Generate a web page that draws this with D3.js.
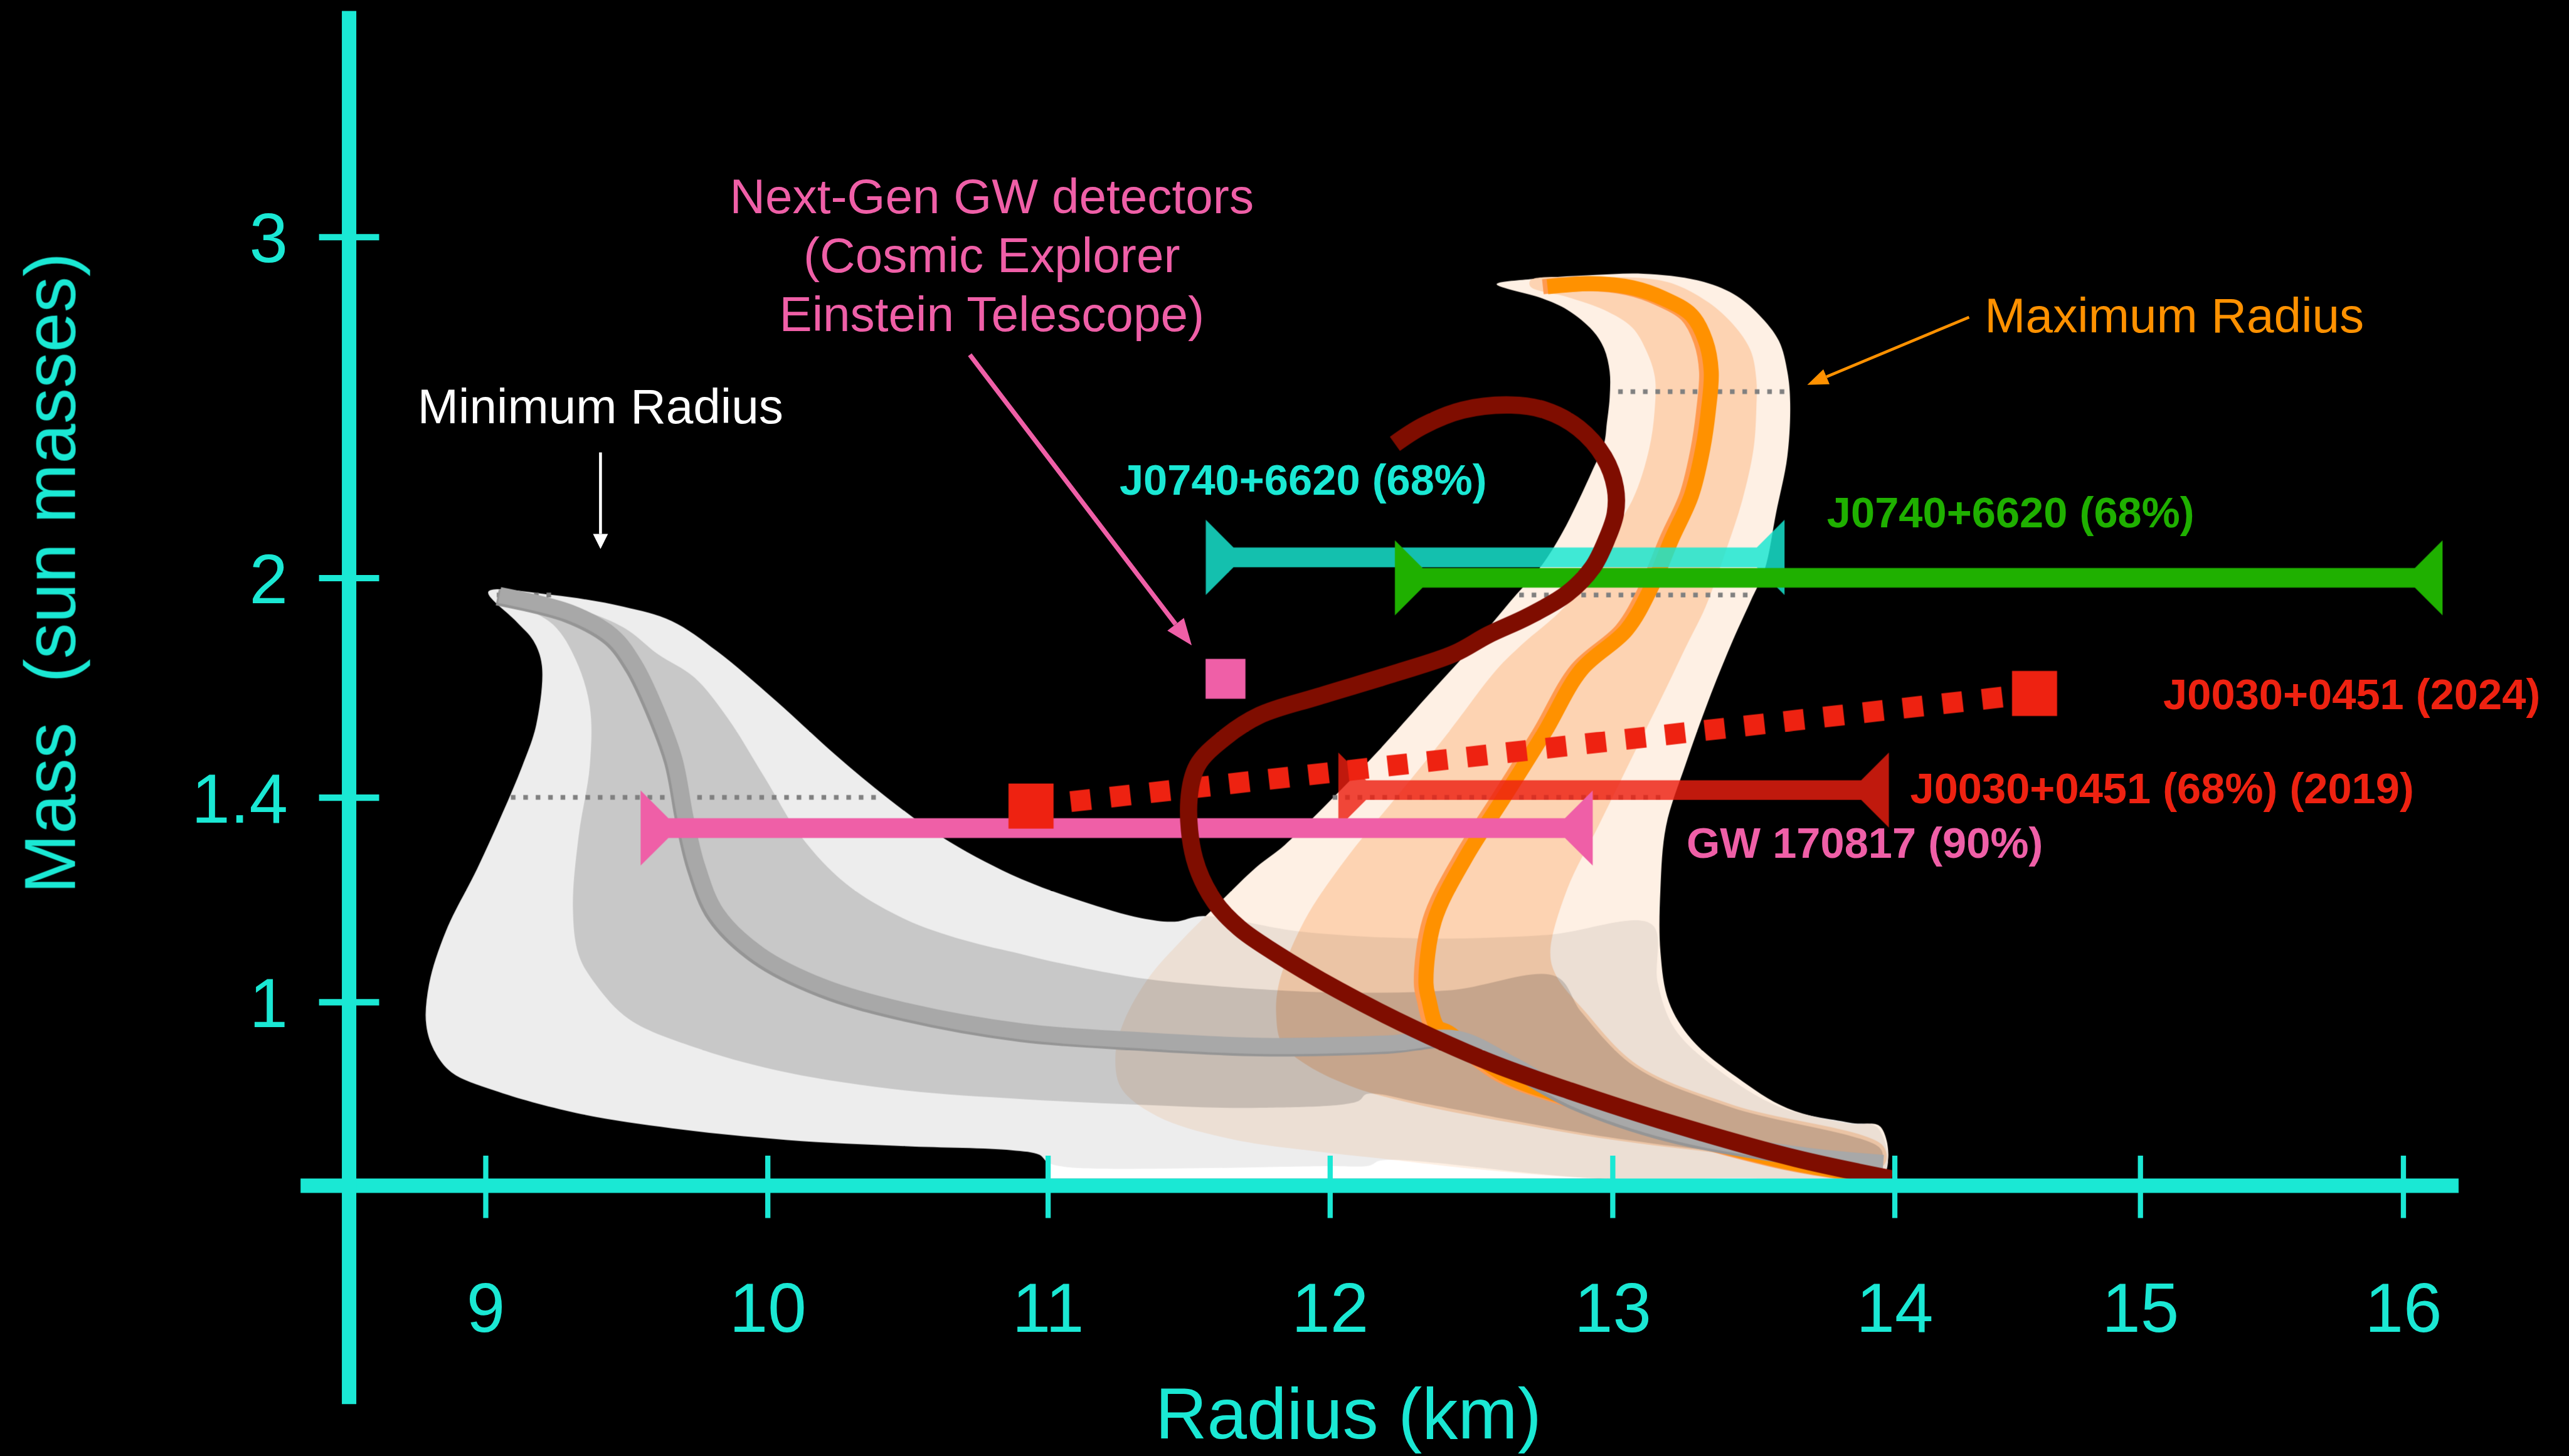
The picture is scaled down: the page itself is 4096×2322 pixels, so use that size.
<!DOCTYPE html>
<html>
<head>
<meta charset="utf-8">
<script src="https://cdn.jsdelivr.net/npm/d3@7"></script>
<style>
  html, body { margin: 0; padding: 0; background: #000; overflow: hidden; }
  svg { display: block; }
  text { font-family: "Liberation Sans", Arial, Helvetica, sans-serif; }
</style>
</head>
<body>
<svg id="chart" width="4096" height="2322"></svg>
<script>
// ---- axis ticks ----
const xTicks = [9, 10, 11, 12, 13, 14, 15, 16];
const yTicks = [1, 1.4, 2, 3];

// ---- minimum-radius band (radius km, mass Msun) ----
const minRadius90 = [
  [9.01,1.962],[9.24,1.953],[9.49,1.921],[9.66,1.882],[9.82,1.800],[10.03,1.664],[10.24,1.518],
  [10.43,1.398],[10.62,1.323],[10.87,1.249],[11.12,1.197],[11.33,1.164],[11.45,1.157],[11.55,1.168],
  [11.89,1.138],[12.32,1.124],[12.77,1.131],[13.14,1.151],[13.16,1.038],[13.22,0.948],[13.37,0.869],
  [13.59,0.795],[13.84,0.764],[13.94,0.754],[13.96,0.660],[12.98,0.654],[12.18,0.690],[12.14,0.680],
  [11.99,0.679],[11.07,0.677],[11.0,0.686],[10.97,0.701],[10.87,0.710],[10.49,0.718],[10.07,0.730],
  [9.66,0.753],[9.32,0.783],[9.03,0.827],[8.88,0.862],[8.82,0.903],[8.79,0.955],[8.80,1.035],
  [8.86,1.139],[8.97,1.260],[9.06,1.369],[9.13,1.485],[9.18,1.599],[9.20,1.760],[9.17,1.828],[9.11,1.880]
];
const minRadius68 = [
  [9.06,1.953],[9.30,1.921],[9.49,1.864],[9.61,1.792],[9.74,1.728],[9.86,1.615],[9.99,1.454],
  [10.12,1.323],[10.28,1.231],[10.49,1.162],[10.70,1.121],[10.91,1.093],[11.05,1.075],[11.36,1.044],
  [11.81,1.023],[12.09,1.018],[12.43,1.023],[12.80,1.050],[12.89,0.980],[13.08,0.873],[13.42,0.794],
  [13.95,0.713],[13.95,0.688],[13.43,0.705],[12.98,0.736],[12.65,0.768],[12.32,0.803],[12.13,0.820],
  [12.10,0.806],[11.75,0.793],[11.33,0.799],[10.91,0.810],[10.49,0.827],[10.07,0.862],[9.76,0.908],
  [9.51,0.966],[9.39,1.035],[9.33,1.093],[9.31,1.185],[9.33,1.323],[9.37,1.487],[9.37,1.648],
  [9.32,1.776],[9.24,1.872]
];
const minRadiusMedian = [
  [9.05,1.953],[9.30,1.905],[9.45,1.841],[9.53,1.760],[9.60,1.648],[9.67,1.503],[9.71,1.358],
  [9.75,1.266],[9.82,1.173],[9.97,1.093],[10.20,1.029],[10.49,0.983],[10.91,0.942],[11.33,0.925],
  [11.76,0.914],[12.21,0.919],[12.45,0.928],[12.65,0.876],[12.87,0.810],[13.21,0.746],[13.65,0.702],
  [13.96,0.685]
];
const lowerStrip = [[11.0,0.654],[11.0,0.700],[12.98,0.700],[12.98,0.654]];

// ---- maximum-radius band ----
const maxRadius90 = [
  [12.59,2.861],[12.71,2.876],[12.93,2.888],[13.11,2.892],[13.30,2.873],[13.43,2.832],[13.52,2.771],
  [13.59,2.695],[13.62,2.605],[13.63,2.514],[13.62,2.356],[13.58,2.190],[13.54,2.025],[13.49,1.937],
  [13.42,1.817],[13.34,1.664],[13.26,1.492],[13.19,1.344],[13.17,1.221],[13.17,1.098],[13.20,1.000],
  [13.28,0.927],[13.44,0.853],[13.62,0.792],[13.84,0.762],[13.95,0.756],[13.96,0.666],[13.43,0.656],
  [12.98,0.654],[12.54,0.672],[12.18,0.694],[11.98,0.706],[11.65,0.732],[11.39,0.776],[11.26,0.832],
  [11.24,0.897],[11.27,0.962],[11.36,1.049],[11.47,1.118],[11.61,1.195],[11.74,1.264],[11.84,1.307],
  [12.02,1.406],[12.17,1.526],[12.35,1.681],[12.51,1.817],[12.64,1.937],[12.75,2.037],[12.82,2.129],
  [12.88,2.227],[12.93,2.317],[12.97,2.393],[12.98,2.454],[12.99,2.529],[12.99,2.605],[12.97,2.673],
  [12.93,2.725],[12.84,2.786],[12.75,2.820]
];
const maxRadius68 = [
  [12.71,2.873],[12.93,2.881],[13.12,2.878],[13.22,2.861],[13.34,2.808],[13.43,2.741],[13.49,2.666],
  [13.51,2.581],[13.51,2.498],[13.50,2.378],[13.46,2.227],[13.40,2.075],[13.33,1.921],[13.26,1.811],
  [13.19,1.698],[13.08,1.526],[12.95,1.344],[12.84,1.221],[12.78,1.098],[12.80,1.052],[12.90,0.983],
  [13.09,0.876],[13.43,0.798],[13.96,0.718],[13.96,0.680],[13.43,0.702],[12.98,0.732],[12.65,0.763],
  [12.32,0.798],[12.09,0.832],[11.92,0.876],[11.83,0.919],[11.81,0.971],[11.82,1.037],[11.91,1.159],
  [12.06,1.282],[12.24,1.405],[12.42,1.578],[12.59,1.749],[12.68,1.818],[12.84,1.929],[12.95,2.075],
  [13.07,2.227],[13.13,2.378],[13.15,2.498],[13.15,2.590],[13.12,2.666],[13.07,2.734],[12.97,2.786],
  [12.84,2.824],[12.71,2.854]
];
const maxRadiusMedian = [
  [12.77,2.854],[12.93,2.863],[13.07,2.851],[13.18,2.820],[13.28,2.771],[13.33,2.695],[13.35,2.605],
  [13.34,2.492],[13.32,2.378],[13.28,2.242],[13.21,2.114],[13.14,1.978],[13.05,1.858],[12.89,1.749],
  [12.76,1.578],[12.62,1.405],[12.48,1.282],[12.37,1.159],[12.34,1.037],[12.35,1.005],[12.38,0.951],
  [12.42,0.940],[12.61,0.860],[12.87,0.807],[13.21,0.747],[13.63,0.686],[13.92,0.660]
];

// ---- example equation-of-state mass-radius curve ----
const eosCurve = [
  [12.23,2.393],[12.33,2.446],[12.47,2.492],[12.64,2.507],[12.76,2.492],[12.88,2.439],[12.97,2.354],
  [13.01,2.264],[13.01,2.188],[12.98,2.114],[12.93,2.031],[12.84,1.957],[12.70,1.894],[12.56,1.844],
  [12.44,1.793],[12.23,1.739],[11.96,1.676],[11.75,1.624],[11.62,1.559],[11.53,1.487],[11.50,1.393],
  [11.52,1.280],[11.59,1.197],[11.68,1.144],[11.80,1.098],[12.03,1.023],[12.30,0.947],[12.58,0.879],
  [12.85,0.826],[13.21,0.762],[13.65,0.694],[13.99,0.654]
];

// ---- measurements: radius interval at a given mass ----
const barIds    = ["j0740nicer", "j0740alt", "j0030", "gw170817"];
const barLabels = ["J0740+6620 (68%)", "J0740+6620 (68%)", "J0030+0451 (68%) (2019)", "GW 170817 (90%)"];
const barRadLo  = [11.56, 12.23, 12.03, 9.55];
const barRadHi  = [13.61, 16.15, 13.98, 12.93];
const barMass   = [2.06, 2.00, 1.42, 1.34];

// J0030+0451 shift between analyses, and next-gen detector forecast point
const j0030Shift = [[10.94, 1.383], [14.57, 1.684]];
const j0030Labels = ["J0030+0451 (2024)"];
const nextGenPoint = [11.63, 1.724];

// reference mass levels (dotted)
const guideLevels = [
  [9.09, 10.41, 1.4], [9.04, 9.26, 1.953],
  [12.01, 13.17, 1.4], [12.67, 13.48, 1.953], [13.02, 13.62, 2.546]
];

// ---- drawing ----
const SCALE = 4096 / 4445;
const svg = d3.select("#chart");
const root = svg.append("g").attr("transform", `scale(${SCALE})`).style("isolation", "isolate");

const x = d3.scaleLinear().domain(xTicks).range([840, 1328, 1813, 2301, 2790, 3278, 3703, 4158]);
const y = d3.scaleLinear().domain(yTicks).range([1734, 1380, 1000, 410]);

const cyan = "#1ae8d4", pink = "#ef5fa7", green = "#1fb000", red = "#ee2211",
      orange = "#ff9100", darkRed = "#7f0d00";

const area = d3.line().x(d => x(d[0])).y(d => y(d[1])).curve(d3.curveCatmullRomClosed.alpha(0.5));
const poly = d3.line().x(d => x(d[0])).y(d => y(d[1])).curve(d3.curveLinearClosed);
const path = d3.line().x(d => x(d[0])).y(d => y(d[1])).curve(d3.curveCatmullRom.alpha(0.5));

// minimum radius band
root.append("path").attr("d", poly(lowerStrip)).attr("fill", "#ffffff");
root.append("path").attr("d", area(minRadius90)).attr("fill", "#ededed");
root.append("path").attr("d", area(minRadius68)).attr("fill", "#c8c8c8");

function guide(g, d) {
  g.append("line")
    .attr("x1", x(d[0])).attr("x2", x(d[1]))
    .attr("y1", y(d[2])).attr("y2", y(d[2]))
    .attr("stroke", "#808080").attr("stroke-width", 8)
    .attr("stroke-dasharray", "8 13.5");
}
guideLevels.slice(0, 2).forEach(d => guide(root, d));

// maximum radius band, multiplied over what lies beneath
const maxBand = root.append("g").style("mix-blend-mode", "multiply");
maxBand.append("path").attr("d", area(maxRadius90)).attr("fill", "#fef0e4");
maxBand.append("path").attr("d", area(maxRadius68)).attr("fill", "#fdd3b2");

guideLevels.slice(2).forEach(d => guide(root, d));

// median curves (with a soft edge tone beside each)
root.append("path").attr("d", path(maxRadiusMedian)).attr("transform", "translate(-8,0)")
  .attr("fill", "none").attr("stroke", "#ff9a4f").attr("stroke-width", 26);
root.append("path").attr("d", path(maxRadiusMedian))
  .attr("fill", "none").attr("stroke", orange).attr("stroke-width", 26);
root.append("path").attr("d", path(minRadiusMedian)).attr("transform", "translate(-4,4)")
  .attr("fill", "none").attr("stroke", "#959595").attr("stroke-width", 28);
root.append("path").attr("d", path(minRadiusMedian))
  .attr("fill", "none").attr("stroke", "#a8a8a8").attr("stroke-width", 28);

// measurement bars with end triangles
const barStyle = {
  j0740nicer: { fill: "#18e7d1", opacity: 0.83 },
  j0740alt:   { fill: green, opacity: 1 },
  j0030:      { fill: "#ec1f10", opacity: 0.81 },
  gw170817:   { fill: pink, opacity: 1 }
};
barIds.forEach((id, i) => {
  const x0 = x(barRadLo[i]), x1 = x(barRadHi[i]), yc = y(barMass[i]);
  const h = 17, a = 65;
  const dpath = `M${x0},${yc - a}L${x0 + a - h},${yc - h}L${x1 - a + h},${yc - h}L${x1},${yc - a}` +
                `L${x1},${yc + a}L${x1 - a + h},${yc + h}L${x0 + a - h},${yc + h}L${x0},${yc + a}Z`;
  root.append("path").attr("d", dpath)
    .attr("fill", barStyle[id].fill).attr("fill-opacity", barStyle[id].opacity);
});

// J0030 shift between analyses
root.append("line")
  .attr("x1", x(j0030Shift[0][0])).attr("y1", y(j0030Shift[0][1]))
  .attr("x2", x(j0030Shift[1][0])).attr("y2", y(j0030Shift[1][1]))
  .attr("stroke", red).attr("stroke-width", 36).attr("stroke-dasharray", "35 34");
j0030Shift.forEach(d => {
  root.append("rect").attr("x", x(d[0]) - 39).attr("y", y(d[1]) - 39)
    .attr("width", 78).attr("height", 78).attr("fill", red);
});

// equation-of-state curve
root.append("path").attr("d", path(eosCurve))
  .attr("fill", "none").attr("stroke", darkRed).attr("stroke-width", 30);

// next-generation detector forecast
root.append("rect").attr("x", x(nextGenPoint[0]) - 34.5).attr("y", y(nextGenPoint[1]) - 34.5)
  .attr("width", 69).attr("height", 69).attr("fill", pink);

// ---- axes ----
const xAxis = root.append("g").attr("transform", "translate(0,2052)")
  .call(d3.axisBottom(x).tickValues(xTicks).tickFormat(d3.format("d")).tickSizeOuter(0));
xAxis.select(".domain").remove();
xAxis.selectAll(".tick line").attr("y1", -52).attr("y2", 56)
  .attr("stroke", cyan).attr("stroke-width", 9);
xAxis.selectAll(".tick text").attr("y", 253).attr("dy", null)
  .attr("fill", cyan).style("font-size", "120px");
root.append("line").attr("x1", 520).attr("x2", 4254).attr("y1", 2052).attr("y2", 2052)
  .attr("stroke", cyan).attr("stroke-width", 25);

const yAxis = root.append("g").attr("transform", "translate(604,0)")
  .call(d3.axisLeft(y).tickValues(yTicks).tickFormat(d => String(d)).tickSizeOuter(0));
yAxis.select(".domain").remove();
yAxis.selectAll(".tick line").attr("x1", -52).attr("x2", 52)
  .attr("stroke", cyan).attr("stroke-width", 11);
yAxis.selectAll(".tick text").attr("x", -106).attr("dy", "0.36em")
  .attr("fill", cyan).style("font-size", "120px");
root.append("line").attr("x1", 604).attr("x2", 604).attr("y1", 19).attr("y2", 2430)
  .attr("stroke", cyan).attr("stroke-width", 25);

root.selectAll(".tick text").style("font-family", "'Liberation Sans', Arial, sans-serif");

root.append("text").attr("x", 2333).attr("y", 2490).attr("text-anchor", "middle")
  .attr("fill", cyan).style("font-size", "124px").text("Radius (km)");
root.append("text").attr("transform", "translate(130,992) rotate(-90)").attr("text-anchor", "middle")
  .attr("fill", cyan).style("font-size", "124px").style("white-space", "pre").text("Mass  (sun masses)");

// ---- labels ----
function label(txt, px, py, color, opts = {}) {
  return root.append("text").attr("x", px).attr("y", py).attr("fill", color)
    .attr("text-anchor", opts.anchor || "start")
    .style("font-size", (opts.size || 74.5) + "px")
    .style("font-weight", opts.bold === false ? "normal" : "bold")
    .text(txt);
}
label(barLabels[0], 1937, 856, cyan);
label(barLabels[1], 3161, 913, green);
label(j0030Labels[0], 3743, 1227, red);
label(barLabels[2], 3305, 1390, red);
label(barLabels[3], 2918, 1485, pink);

label("Minimum Radius", 1039, 733, "#ffffff", { anchor: "middle", size: 85, bold: false });
label("Maximum Radius", 3434, 575, orange, { size: 85, bold: false });
["Next-Gen GW detectors", "(Cosmic Explorer", "Einstein Telescope)"].forEach((t, i) =>
  label(t, 1716, 369 + i * 102, pink, { anchor: "middle", size: 85, bold: false }));

// annotation arrows
function arrow(x1, y1, x2, y2, color, w, headLen, headW) {
  const ang = Math.atan2(y2 - y1, x2 - x1);
  const bx = x2 - headLen * Math.cos(ang), by = y2 - headLen * Math.sin(ang);
  root.append("line").attr("x1", x1).attr("y1", y1).attr("x2", bx).attr("y2", by)
    .attr("stroke", color).attr("stroke-width", w);
  const nx = -Math.sin(ang) * headW / 2, ny = Math.cos(ang) * headW / 2;
  root.append("path").attr("d", `M${x2},${y2}L${bx + nx},${by + ny}L${bx - nx},${by - ny}Z`).attr("fill", color);
}
arrow(1039, 783, 1039, 950, "#ffffff", 5, 26, 26);
arrow(1678, 614, 2062, 1117, pink, 8, 46, 36);
arrow(3407, 549, 3127, 666, orange, 5, 36, 28);
</script>
</body>
</html>
